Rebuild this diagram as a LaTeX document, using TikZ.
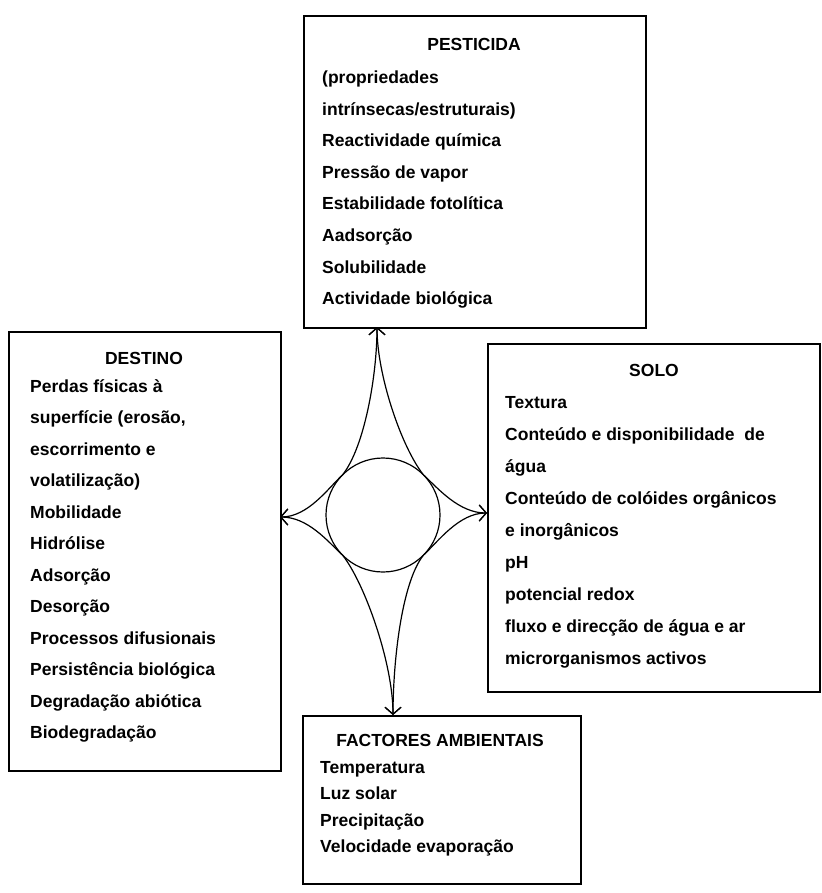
\documentclass[tikz,border=0pt]{standalone}
\usepackage{fontspec}
\setmainfont{Liberation Sans}
\usetikzlibrary{arrows.meta}
\begin{document}
\begin{tikzpicture}[x=1pt,y=-1pt,
  box/.style={draw, line width=1.6pt, inner sep=0pt, anchor=north west},
  txt/.style={anchor=base west, inner sep=0pt, font=\fontsize{17.5}{20}\selectfont\bfseries},
  ttl/.style={anchor=base, inner sep=0pt, font=\fontsize{17.5}{20}\selectfont\bfseries},
  star/.style={line width=1.2pt},
  tipped/.style={star, -{Straight Barb[length=7pt,width=16pt,line width=1.2pt]}}
]
\useasboundingbox (0,0) rectangle (821,893);
% boxes
\node[box, minimum width=342pt, minimum height=312pt] (pest) at (303,15) {};
\node[box, minimum width=272pt, minimum height=439pt] (dest) at (8,331) {};
\node[box, minimum width=332pt, minimum height=348pt] (solo) at (487,343) {};
\node[box, minimum width=278pt, minimum height=168pt] (fact) at (302,715) {};
% titles
\node[ttl] (pestt) at (474,51) {PESTICIDA};
\node[ttl] (destt) at (144,364) {DESTINO};
\node[ttl] (solot) at (654,376) {SOLO};
\node[ttl] (factt) at (440,746) {FACTORES AMBIENTAIS};
% lists
\foreach \t [count=\i from 0] in {{(propriedades},{intrínsecas/estruturais)},Reactividade química,Pressão de vapor,Estabilidade fotolítica,Aadsorção,Solubilidade,Actividade biológica}
  \node[txt] (p\i) at (322,84+31.5*\i) {\t};
\foreach \t [count=\i from 0] in {Perdas físicas à,{superfície (erosão,},escorrimento e,{volatilização)},Mobilidade,Hidrólise,Adsorção,Desorção,Processos difusionais,Persistência biológica,Degradação abiótica,Biodegradação}
  \node[txt] (d\i) at (30,392+31.5*\i) {\t};
\foreach \t [count=\i from 0] in {Textura,Conteúdo e disponibilidade\ \ de,água,Conteúdo de colóides orgânicos,e inorgânicos,pH,potencial redox,fluxo e direcção de água e ar,microrganismos activos}
  \node[txt] (s\i) at (505,408+32*\i) {\t};
\foreach \t [count=\i from 0] in {Temperatura,Luz solar,Precipitação,Velocidade evaporação}
  \node[txt] (f\i) at (320,773+26.5*\i) {\t};
% centre
\node[circle, draw, star, minimum size=114pt, inner sep=0pt, outer sep=0pt] (hub) at (383,515) {};
\coordinate (ct) at (377,327);
\coordinate (cl) at (280,517);
\coordinate (cr) at (487,513);
\coordinate (cb) at (393,715);
\draw[tipped] (hub.135) .. controls +(22,-28) and +(0,48) .. (ct);
\draw[tipped] (hub.45) .. controls +(-22,-28) and +(0,48) .. (ct);
\draw[tipped] (hub.135) .. controls +(-15,14) and +(28,0) .. (cl);
\draw[tipped] (hub.225) .. controls +(-15,-14) and +(28,0) .. (cl);
\draw[tipped] (hub.45) .. controls +(15,14) and +(-28,0) .. (cr);
\draw[tipped] (hub.315) .. controls +(15,-14) and +(-28,0) .. (cr);
\draw[tipped] (hub.225) .. controls +(22,28) and +(0,-52) .. (cb);
\draw[tipped] (hub.315) .. controls +(-22,28) and +(0,-52) .. (cb);
\end{tikzpicture}
\end{document}
